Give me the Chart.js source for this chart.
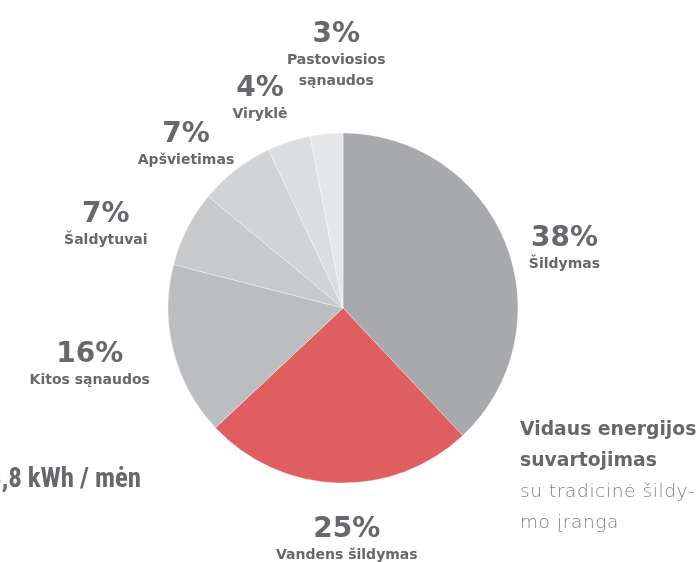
<!DOCTYPE html>
<html>
<head>
<meta charset="utf-8">
<script src="https://cdn.jsdelivr.net/npm/chart.js@4.4.1/dist/chart.umd.min.js"></script>
<style>
  html, body { margin: 0; padding: 0; background: #fff; overflow: hidden; }
  #wrap { position: relative; width: 697px; height: 562px; }
  canvas { position: absolute; left: 0; top: 0; }
  .note { position: absolute; color: #67686c; white-space: nowrap; }
  #total { right: 556px; top: 462px; font: bold 27px "Liberation Sans Narrow", "Roboto Condensed", sans-serif; letter-spacing: -0.1px; }
  #caption { left: 520px; top: 413px; font-size: 18.8px; line-height: 31px; }
  #caption b { font-family: "DejaVu Sans", sans-serif; font-weight: bold; }
  #caption span { font-family: "DejaVu Sans", sans-serif; font-weight: 200; font-size: 18.5px; letter-spacing: 0.6px; color: #7e7f83; }
</style>
</head>
<body>
<div id="wrap">
  <canvas id="pie" width="697" height="562"></canvas>
  <div class="note" id="total">233,8 kWh / mėn</div>
  <div class="note" id="caption"><b>Vidaus energijos<br>suvartojimas</b><br><span>su tradicinė šildy-<br>mo įranga</span></div>
</div>
<script>
// shares of household energy use, %
const labels = ['Šildymas', 'Vandens šildymas', 'Kitos sąnaudos', 'Šaldytuvai', 'Apšvietimas', 'Viryklė', 'Pastoviosios sąnaudos'];
const values = [38, 25, 16, 7, 7, 4, 3];
const nameLines = [['Šildymas'], ['Vandens šildymas'], ['Kitos sąnaudos'], ['Šaldytuvai'], ['Apšvietimas'], ['Viryklė'], ['Pastoviosios', 'sąnaudos']];

const colors = ['#a8a9ad', '#df5e5f', '#bcbdc0', '#c8c9cb', '#d2d3d5', '#dcdddf', '#e6e7e9'];

// label placement relative to each slice: extra radius (px) and angle tweak (deg)
const labelNudge = [
  { dr: 58, da: 3.5 },
  { dr: 44, da: -2.8 },
  { dr: 82, da: 4.6 },
  { dr: 81, da: -4.9 },
  { dr: 61, da: -3.9 },
  { dr: 62, da: -2.5 },
  { dr: 101, da: 4.0 },
];

const sliceLabels = {
  id: 'sliceLabels',
  afterDatasetsDraw(chart) {
    const ctx = chart.ctx;
    const meta = chart.getDatasetMeta(0);
    ctx.save();
    ctx.fillStyle = '#67686c';
    ctx.textAlign = 'center';
    ctx.textBaseline = 'alphabetic';
    meta.data.forEach((arc, i) => {
      const p = arc.getProps(['x', 'y', 'startAngle', 'endAngle', 'outerRadius'], true);
      const a = (p.startAngle + p.endAngle) / 2 + labelNudge[i].da * Math.PI / 180;
      const r = p.outerRadius + labelNudge[i].dr;
      const cx = p.x + Math.cos(a) * r;
      const cy = p.y + Math.sin(a) * r;
      ctx.font = 'bold 28px "DejaVu Sans", sans-serif';
      ctx.fillText(values[i] + '%', cx, cy + 10);
      ctx.font = 'bold 14px "DejaVu Sans", sans-serif';
      nameLines[i].forEach((line, j) => {
        ctx.fillText(line, cx, cy + 32 + j * 21);
      });
    });
    ctx.restore();
  }
};

new Chart(document.getElementById('pie').getContext('2d'), {
  type: 'pie',
  data: {
    labels,
    datasets: [{
      data: values,
      backgroundColor: colors,
      borderColor: 'rgba(255,255,255,0.6)',
      borderWidth: 0.6,
      hoverOffset: 0,
    }],
  },
  options: {
    responsive: false,
    animation: false,
    radius: 175,
    layout: { padding: { top: 54, right: 11, left: 0, bottom: 0 } },
    plugins: {
      legend: { display: false },
      tooltip: { enabled: false },
    },
  },
  plugins: [sliceLabels],
});
</script>
</body>
</html>
